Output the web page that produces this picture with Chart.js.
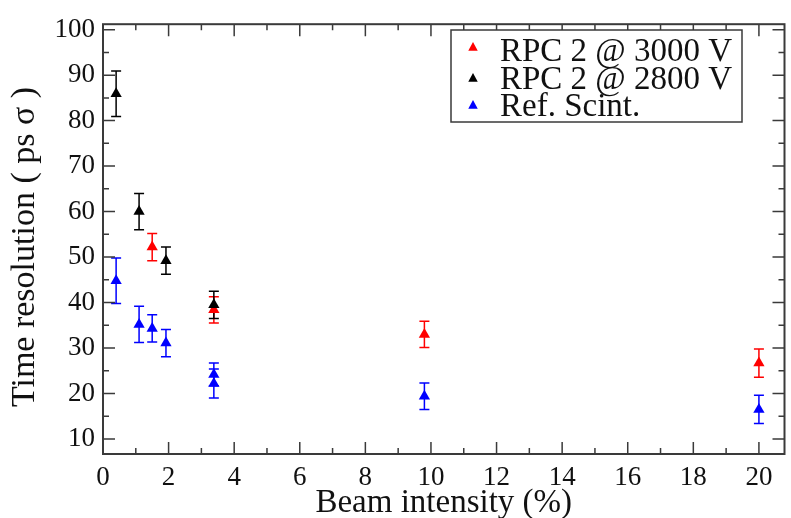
<!DOCTYPE html>
<html>
<head>
<meta charset="utf-8">
<script src="https://cdn.jsdelivr.net/npm/chart.js@4/dist/chart.umd.min.js"></script>
<style>
  html, body { margin: 0; padding: 0; background: #ffffff; }
  canvas { display: block; }
</style>
</head>
<body>
<canvas id="c" width="791" height="518"></canvas>
<script>
// ---- data ----
const labels = ["RPC 2 @ 3000 V", "RPC 2 @ 2800 V", "Ref. Scint."];
const xTitle = 'Beam intensity (%)';
const yTitle = 'Time resolution ( ps σ )';

const beamRed  = [1.5, 3.38, 9.8, 20.0];
const resRed   = [52.2, 38.4, 33.0, 26.7];
const errRed   = [3.0, 2.9, 2.9, 3.1];

const beamBlack = [0.4, 1.1, 1.92, 3.38];
const resBlack  = [85.9, 60.0, 49.2, 39.5];
const errBlack  = [5.0, 4.0, 3.0, 3.0];

const beamBlue = [0.4, 1.1, 1.5, 1.92, 3.38, 3.38, 9.8, 20.0];
const resBlue  = [44.8, 35.2, 34.3, 31.1, 24.2, 22.2, 19.4, 16.5];
const errBlue  = [5.0, 4.0, 3.0, 3.0, 2.5, 3.2, 2.9, 3.1];

const xTicks = [0, 2, 4, 6, 8, 10, 12, 14, 16, 18, 20];
const xMinor = [1, 3, 5, 7, 9, 11, 13, 15, 17, 19];
const yTicks = [10, 20, 30, 40, 50, 60, 70, 80, 90, 100];
const yMinor = [15, 25, 35, 45, 55, 65, 75, 85, 95];

const AXIS = '#3a3a3a';
const SERIF = '"Liberation Serif", "DejaVu Serif", serif';

function pts(xs, ys) { return xs.map((x, i) => ({ x: x, y: ys[i] })); }

const datasets = [
  { label: labels[0], data: pts(beamRed, resRed), err: errRed, color: '#ff0000', order: 2 },
  { label: labels[1], data: pts(beamBlack, resBlack), err: errBlack, color: '#000000', order: 1 },
  { label: labels[2], data: pts(beamBlue, resBlue), err: errBlue, color: '#0000ff', order: 3 }
].map(d => ({
  label: d.label, data: d.data, err: d.err, order: d.order,
  showLine: false,
  pointStyle: 'triangle',
  pointRadius: 6.5,
  pointHoverRadius: 6.5,
  backgroundColor: d.color,
  borderColor: d.color,
  borderWidth: 0
}));

const errorBars = {
  id: 'errorBars',
  beforeDatasetsDraw(chart) {
    const ctx = chart.ctx, ys = chart.scales.y;
    chart.data.datasets.forEach((ds, di) => {
      const meta = chart.getDatasetMeta(di);
      ctx.save();
      ctx.strokeStyle = ds.borderColor;
      ctx.lineWidth = 1.5;
      meta.data.forEach((el, i) => {
        const v = ds.data[i].y, e = ds.err[i];
        const x = el.x;
        const yt = ys.getPixelForValue(v + e), yb = ys.getPixelForValue(v - e);
        ctx.beginPath();
        ctx.moveTo(x, yt); ctx.lineTo(x, yb);
        ctx.moveTo(x - 5, yt); ctx.lineTo(x + 5, yt);
        ctx.moveTo(x - 5, yb); ctx.lineTo(x + 5, yb);
        ctx.stroke();
      });
      ctx.restore();
    });
  }
};

const frame = {
  id: 'frame',
  afterDatasetsDraw(chart) {
    const ctx = chart.ctx, a = chart.chartArea;
    const xs = chart.scales.x, ys = chart.scales.y;
    ctx.save();
    ctx.strokeStyle = AXIS;
    ctx.lineWidth = 1.5;
    ctx.beginPath();
    xTicks.forEach(v => {
      const p = xs.getPixelForValue(v);
      ctx.moveTo(p, a.bottom); ctx.lineTo(p, a.bottom - 12);
      ctx.moveTo(p, a.top); ctx.lineTo(p, a.top + 12);
    });
    xMinor.forEach(v => {
      const p = xs.getPixelForValue(v);
      ctx.moveTo(p, a.bottom); ctx.lineTo(p, a.bottom - 6);
      ctx.moveTo(p, a.top); ctx.lineTo(p, a.top + 6);
    });
    yTicks.forEach(v => {
      const p = ys.getPixelForValue(v);
      ctx.moveTo(a.left, p); ctx.lineTo(a.left + 12, p);
      ctx.moveTo(a.right, p); ctx.lineTo(a.right - 12, p);
    });
    yMinor.forEach(v => {
      const p = ys.getPixelForValue(v);
      ctx.moveTo(a.left, p); ctx.lineTo(a.left + 6, p);
      ctx.moveTo(a.right, p); ctx.lineTo(a.right - 6, p);
    });
    ctx.stroke();
    ctx.lineWidth = 2;
    ctx.strokeRect(a.left, a.top, a.right - a.left, a.bottom - a.top);
    ctx.restore();
  },
  afterDraw(chart) {
    const ctx = chart.ctx;
    // y-axis title
    ctx.save();
    ctx.translate(25, 247);
    ctx.rotate(-Math.PI / 2);
    ctx.font = '34px ' + SERIF;
    ctx.fillStyle = '#111111';
    ctx.textAlign = 'center';
    ctx.textBaseline = 'middle';
    ctx.fillText(yTitle, 0, 0);
    ctx.restore();

    // legend box
    const bx = 451, by = 30, bw = 291, bh = 92;
    ctx.save();
    ctx.fillStyle = '#ffffff';
    ctx.fillRect(bx, by, bw, bh);
    ctx.strokeStyle = AXIS;
    ctx.lineWidth = 1.5;
    ctx.strokeRect(bx, by, bw, bh);
    const baselines = [61, 89, 116];
    const markerY = [47, 78, 105];
    ctx.font = '33px ' + SERIF;
    ctx.textBaseline = 'alphabetic';
    ctx.textAlign = 'left';
    chart.data.datasets.forEach((ds, i) => {
      const mx = 473, my = markerY[i], r = 5;
      ctx.fillStyle = ds.backgroundColor;
      ctx.beginPath();
      ctx.moveTo(mx, my - r);
      ctx.lineTo(mx + r * 0.95, my + r * 0.75);
      ctx.lineTo(mx - r * 0.95, my + r * 0.75);
      ctx.closePath();
      ctx.fill();
      ctx.fillStyle = '#111111';
      ctx.fillText(ds.label, 500, baselines[i]);
    });
    ctx.restore();
  }
};

new Chart(document.getElementById('c'), {
  type: 'scatter',
  data: { datasets: datasets },
  plugins: [errorBars, frame],
  options: {
    responsive: false,
    devicePixelRatio: 1,
    animation: false,
    events: [],
    layout: { padding: { top: 15, right: 1, left: 0, bottom: 0 } },
    plugins: {
      legend: { display: false },
      tooltip: { enabled: false }
    },
    scales: {
      x: {
        type: 'linear',
        min: 0,
        max: 20.78,
        afterBuildTicks(s) { s.ticks = xTicks.map(v => ({ value: v })); },
        afterFit(s) { s.height = 64; },
        grid: { display: false, drawTicks: false },
        border: { display: false },
        ticks: {
          padding: 8,
          color: '#111111',
          font: { family: SERIF, size: 27 },
          callback: v => String(v)
        },
        title: {
          display: true,
          text: xTitle,
          color: '#111111',
          font: { family: SERIF, size: 33 },
          padding: { top: 0, bottom: -5 }
        }
      },
      y: {
        type: 'linear',
        min: 6.7,
        max: 101.2,
        afterBuildTicks(s) { s.ticks = yTicks.map(v => ({ value: v })); },
        afterFit(s) { s.width = 103; },
        grid: { display: false, drawTicks: false },
        border: { display: false },
        ticks: {
          padding: 8,
          color: '#111111',
          font: { family: SERIF, size: 27 },
          callback: v => String(v)
        },
        title: { display: false }
      }
    }
  }
});
</script>
</body>
</html>
